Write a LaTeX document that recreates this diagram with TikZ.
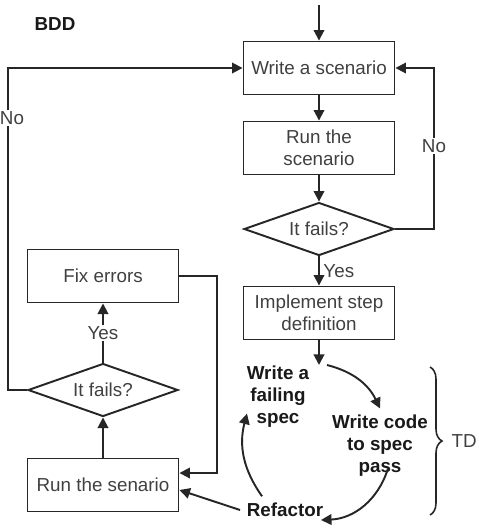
\documentclass[tikz,border=0pt]{standalone}
\usepackage{fontspec}
\setmainfont{Liberation Sans}
\usetikzlibrary{shapes.geometric,arrows.meta,decorations.pathreplacing}

\begin{document}
\begin{tikzpicture}[x=0.02cm,y=-0.02cm, line width=1.1pt, color=black!85,
  >={Triangle[length=6pt,width=6pt]},
  every node/.style={font=\fontsize{10.7}{12.5}\selectfont, text=black!75},
  box/.style={draw, rectangle, minimum width=3.02cm, minimum height=1.06cm,
    align=center, inner sep=0pt},
  decision/.style={draw, diamond, aspect=2.8, minimum width=3cm,
    minimum height=1.06cm, inner sep=0pt},
  tdd/.style={font=\fontsize{10.7}{12.5}\selectfont\bfseries, align=center,
    text=black!90}]
  \useasboundingbox (0,0) rectangle (479,529);
  \node[tdd] (bdd) at (55,24) {BDD};
  \node[box] (write) at (319,68) {Write a scenario};
  \node[box] (run1) at (319,148) {Run the\\scenario};
  \node[decision] (fail1) at (319,229) {It fails?};
  \node[box] (impl) at (319,313) {Implement step\\definition};
  \node[box] (fix) at (103,276) {Fix errors};
  \node[decision] (fail2) at (103,390) {It fails?};
  \node[box] (run2) at (103,485) {Run the senario};
  \node[tdd] (spec) at (278,397) {Write a\\failing\\spec};
  \node[tdd] (code) at (380,446) {Write code\\to spec\\pass};
  \node[tdd] (refactor) at (285,510) {Refactor};
  \node[anchor=west, inner sep=1pt] (td) at (449,441) {TD};
  \coordinate (in) at (319,5);
  \coordinate (cyc) at (319,365);
  \coordinate (bt) at (430,367);
  \coordinate (bb) at (430,515);

  \draw[->] (in) -- (write.north);
  \draw[->] (write) -- (run1);
  \draw[->] (run1) -- (fail1);
  \draw[->] (fail1.south) -- node[right, inner sep=2pt] (yes1) {Yes} (impl.north);
  \draw[->] (fail1.east) -- (434,229) |- (write.east);
  \node[fill=white, inner sep=1pt] (no1) at (434,146) {No};
  \draw[->] (impl) -- (cyc);

  \draw[->] (fail2.west) -- (8,390) |- (write.west);
  \node[fill=white, inner sep=1pt] (no2) at (12,118) {No};
  \draw[->] (run2) -- (fail2);
  \draw[->] (fail2.north) -- node[fill=white, inner sep=1pt] (yes2) {Yes} (fix.south);
  \draw[->] (fix.east) -- (217,276) |- ([yshift=0.24cm]run2.east);
  \draw[->] (refactor.west) -- ([yshift=-0.1cm]run2.east);

  \draw[->] ([xshift=0.16cm]cyc) to[bend left=25] (code.north);
  \draw[->] ([xshift=0.16cm,yshift=0.3cm]code.south) to[bend left=35]
    ([xshift=-0.18cm,yshift=-0.2cm]refactor.east);
  \draw[->] ([xshift=0.44cm]refactor.north west) to[bend left=25]
    ([xshift=0.14cm,yshift=0.42cm]spec.south west);
  \draw[line width=0.9pt, decorate, decoration={brace, amplitude=0.24cm}] (bt) -- (bb);
\end{tikzpicture}
\end{document}
